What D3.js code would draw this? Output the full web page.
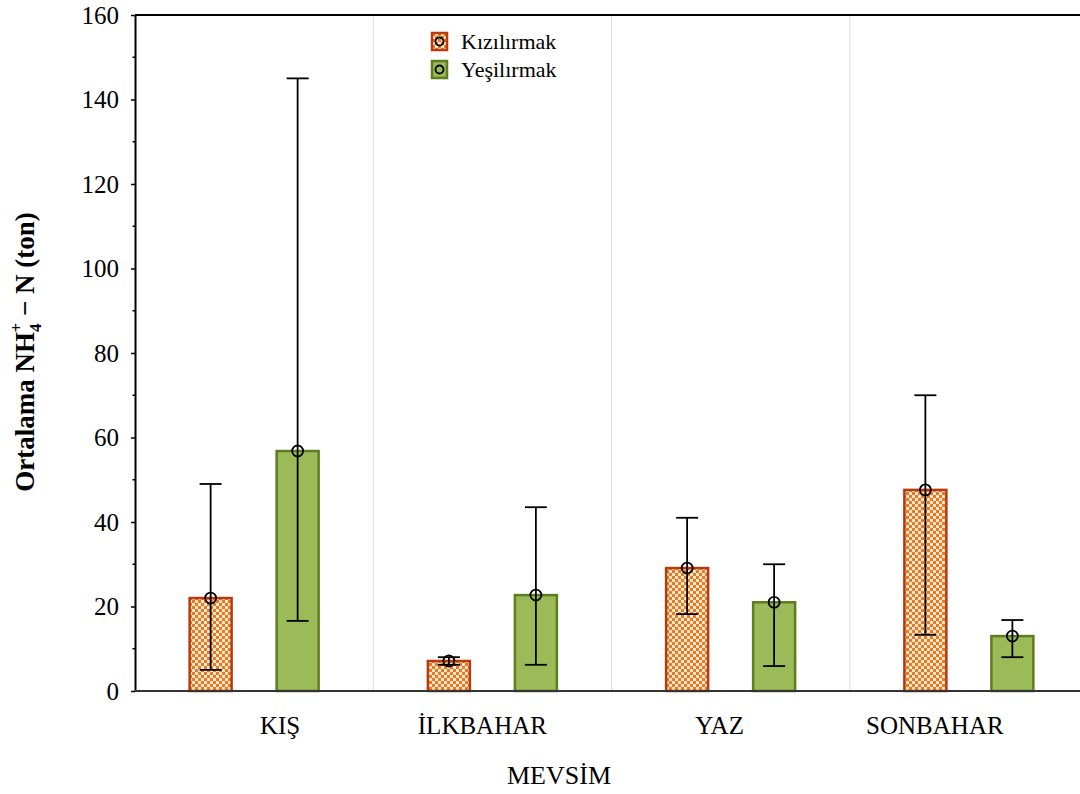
<!DOCTYPE html>
<html>
<head>
<meta charset="utf-8">
<script src="https://cdn.jsdelivr.net/npm/d3@7"></script>
<style>
  body { margin: 0; background: #fff; }
  svg text { font-family: "Liberation Serif", "Times New Roman", serif; fill: #000; }
</style>
</head>
<body>
<div id="chart"></div>
<script>
// seasons and rivers
const seasons = ["KIŞ", "İLKBAHAR", "YAZ", "SONBAHAR"];
const rivers = ["Kızılırmak", "Yeşilırmak"];

// means with lower / upper whiskers
const kizil_mean = [22, 7.1, 29.1, 47.6];
const kizil_low  = [5, 6.2, 18.2, 13.3];
const kizil_high = [49, 8.0, 41, 70];
const yesil_mean = [56.8, 22.7, 21, 13];
const yesil_low  = [16.6, 6.2, 5.9, 8.0];
const yesil_high = [145, 43.5, 30, 16.8];

const y_ticks = [0, 20, 40, 60, 80, 100, 120, 140, 160];

const SERIF = "'Liberation Serif', 'Times New Roman', serif";

function draw_chart(width = 1080, height = 794){
  const margin = ({top: 15, right: -8, bottom: 103, left: 135});

  // build rows for the bars
  let rows = [];
  seasons.forEach((s, i) => {
    rows.push({season: s, river: rivers[0], mean: kizil_mean[i], low: kizil_low[i], high: kizil_high[i]});
    rows.push({season: s, river: rivers[1], mean: yesil_mean[i], low: yesil_low[i], high: yesil_high[i]});
  });

  const svg = d3.select("#chart").append("svg")
    .attr("width", width)
    .attr("height", height)
    .attr("font-family", SERIF);

  // checker pattern for Kızılırmak
  const defs = svg.append("defs");
  const pat = defs.append("pattern")
    .attr("id", "checker")
    .attr("patternUnits", "userSpaceOnUse")
    .attr("width", 6).attr("height", 6);
  pat.append("rect").attr("width", 6).attr("height", 6).attr("fill", "#fbe6d2");
  pat.append("rect").attr("width", 3).attr("height", 3).attr("fill", "#ea7a1e");
  pat.append("rect").attr("x", 3).attr("y", 3).attr("width", 3).attr("height", 3).attr("fill", "#ea7a1e");

  const fills = {"Kızılırmak": "url(#checker)", "Yeşilırmak": "#9bbb59"};
  const strokes = {"Kızılırmak": "#b83a0e", "Yeşilırmak": "#5f7d20"};

  const x0 = d3.scaleBand()
    .domain(seasons)
    .range([margin.left, width - margin.right]);

  const x1 = d3.scalePoint()
    .domain(rivers)
    .range([-43.5, 43.5]);

  const y = d3.scaleLinear()
    .domain([0, 160])
    .range([height - margin.bottom, margin.top]);

  const bar_w = 42;

  // light separators between seasons
  svg.append("g").selectAll("line")
    .data(seasons.slice(1))
    .enter().append("line")
    .attr("x1", d => x0(d)).attr("x2", d => x0(d))
    .attr("y1", y(160)).attr("y2", y(0))
    .attr("stroke", "#dcdcdc").attr("stroke-width", 1);

  // bars
  svg.append("g").selectAll("rect")
    .data(rows)
    .enter().append("rect")
    .attr("x", d => x0(d.season) + x0.bandwidth()/2 + x1(d.river) - bar_w/2)
    .attr("y", d => y(d.mean))
    .attr("width", bar_w)
    .attr("height", d => y(0) - y(d.mean))
    .attr("fill", d => fills[d.river])
    .attr("stroke", d => strokes[d.river])
    .attr("stroke-width", 2.5);

  // error bars
  const eb = svg.append("g").selectAll("g")
    .data(rows)
    .enter().append("g")
    .attr("transform", d => `translate(${x0(d.season) + x0.bandwidth()/2 + x1(d.river)},0)`);

  eb.append("line")
    .attr("x1", 0).attr("x2", 0)
    .attr("y1", d => y(d.low)).attr("y2", d => y(d.high))
    .attr("stroke", "#000").attr("stroke-width", 1.8);
  eb.append("line")
    .attr("x1", -11).attr("x2", 11)
    .attr("y1", d => y(d.low)).attr("y2", d => y(d.low))
    .attr("stroke", "#000").attr("stroke-width", 1.8);
  eb.append("line")
    .attr("x1", -11).attr("x2", 11)
    .attr("y1", d => y(d.high)).attr("y2", d => y(d.high))
    .attr("stroke", "#000").attr("stroke-width", 1.8);
  eb.append("circle")
    .attr("cx", 0).attr("cy", d => y(d.mean))
    .attr("r", 5.5)
    .attr("fill", "none")
    .attr("stroke", "#000").attr("stroke-width", 1.8);

  // y axis
  const yAxis = svg.append("g")
    .attr("transform", `translate(${margin.left},0)`)
    .call(d3.axisLeft(y).tickValues(y_ticks).tickSize(4).tickPadding(12).tickSizeOuter(0));
  yAxis.attr("font-family", SERIF);
  yAxis.select(".domain").attr("stroke", "#000").attr("stroke-width", 2);
  yAxis.selectAll(".tick line").attr("stroke-width", 1.5);
  yAxis.selectAll(".tick text").style("font-size", "25px").style("font-family", SERIF);
  // minor ticks
  svg.append("g").selectAll("line")
    .data(d3.range(10, 160, 20))
    .enter().append("line")
    .attr("x1", margin.left - 2.5).attr("x2", margin.left)
    .attr("y1", d => y(d)).attr("y2", d => y(d))
    .attr("stroke", "#000").attr("stroke-width", 1.5);

  // top frame and bottom axis
  svg.append("line")
    .attr("x1", margin.left).attr("x2", width)
    .attr("y1", y(160)).attr("y2", y(160))
    .attr("stroke", "#000").attr("stroke-width", 2);
  svg.append("line")
    .attr("x1", margin.left).attr("x2", width)
    .attr("y1", y(0)).attr("y2", y(0))
    .attr("stroke", "#333").attr("stroke-width", 2);

  // season labels (Statistica places them a bit off-centre)
  const label_dx = [26, -10, -11, -34];
  svg.append("g").selectAll("text")
    .data(seasons)
    .enter().append("text")
    .attr("x", (d, i) => x0(d) + x0.bandwidth()/2 + label_dx[i])
    .attr("y", 734)
    .attr("text-anchor", "middle")
    .style("font-size", "25px")
    .style("font-family", SERIF)
    .text(d => d);

  // axis titles
  svg.append("text")
    .attr("x", 559).attr("y", 784)
    .attr("text-anchor", "middle")
    .style("font-size", "26px")
    .style("font-family", SERIF)
    .text("MEVSİM");

  const yt = svg.append("text")
    .attr("transform", "translate(34,352) rotate(-90)")
    .attr("text-anchor", "middle")
    .style("font-size", "27px")
    .style("font-family", SERIF)
    .style("font-weight", "bold");
  yt.append("tspan").text("Ortalama NH");
  yt.append("tspan").attr("dy", 7).style("font-size", "17px").text("4");
  yt.append("tspan").attr("dy", -19).attr("dx", -9).style("font-size", "17px").text("+");
  yt.append("tspan").attr("dy", 12).text(" \u2212 N (ton)");

  // legend
  const lg = svg.append("g").selectAll("g")
    .data(rivers)
    .enter().append("g")
    .attr("transform", (d, i) => `translate(432,${33 + i*28})`);
  lg.append("rect")
    .attr("width", 15).attr("height", 17)
    .attr("fill", d => fills[d])
    .attr("stroke", d => strokes[d]).attr("stroke-width", 2.5);
  lg.append("circle")
    .attr("cx", 7.5).attr("cy", 8.5).attr("r", 4)
    .attr("fill", "none").attr("stroke", "#000").attr("stroke-width", 1.8);
  lg.append("text")
    .attr("x", 29).attr("y", 16)
    .style("font-size", "22px")
    .style("font-family", SERIF)
    .text(d => d);

  return svg.node();
}

draw_chart();
</script>
</body>
</html>
